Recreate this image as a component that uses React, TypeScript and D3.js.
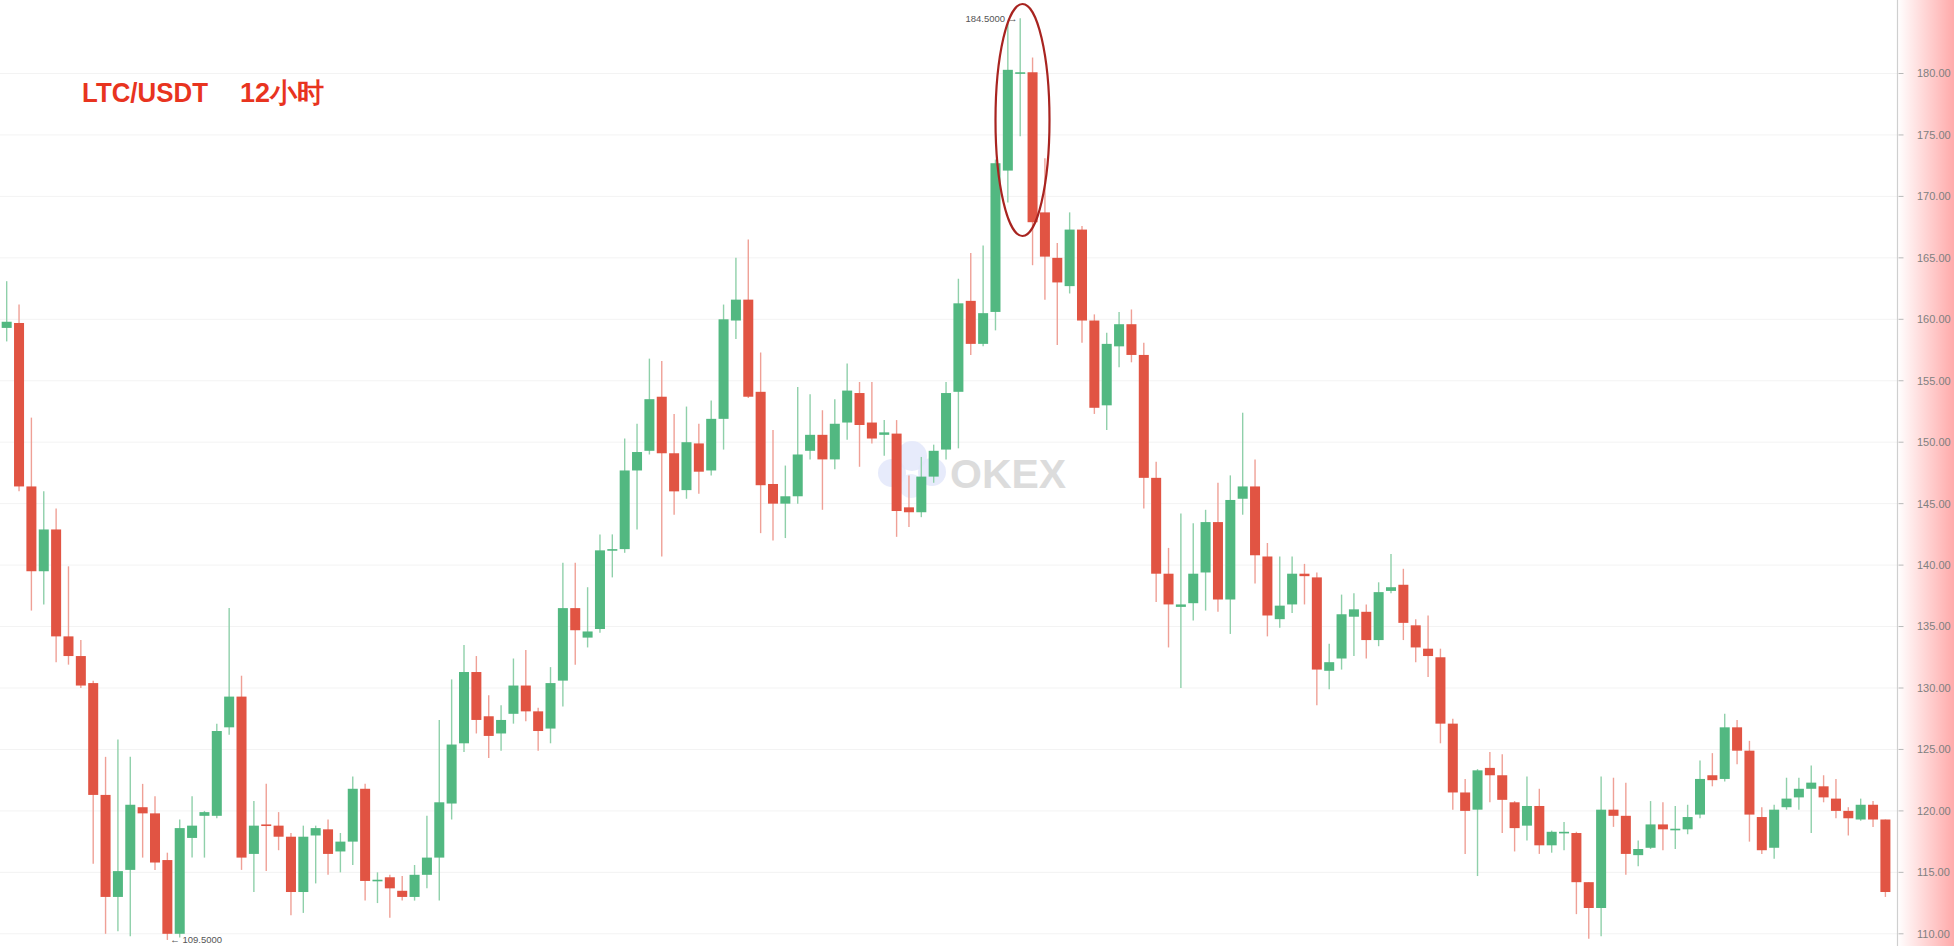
import React from "react";
import * as d3 from "d3";

// ---- Data (12h LTC/USDT candles) ----
const opens = [
  159.3, 159.7, 146.4, 139.5, 142.9, 134.2, 132.6, 130.4, 121.3, 113.0,
  115.2, 120.3, 119.8, 116.0, 110.0, 117.8, 119.6, 119.6, 126.8, 129.3,
  116.5, 118.9, 118.8, 117.9, 113.4, 118.0, 118.5, 116.7, 117.5, 121.8,
  114.3, 114.6, 113.5, 113.0, 114.8, 116.2, 120.6, 125.5, 131.3, 127.7,
  126.3, 127.9, 130.2, 128.1, 126.7, 130.6, 136.5, 134.1, 134.8, 141.2,
  141.3, 147.7, 149.3, 153.7, 149.1, 146.1, 149.9, 147.7, 151.9, 159.9,
  161.6, 154.1, 146.6, 145.0, 145.6, 149.3, 150.6, 148.6, 151.6, 154.0,
  151.6, 150.6, 150.7, 144.7, 144.3, 147.2, 149.4, 154.1, 161.5, 158.0,
  160.6, 172.1, 180.0, 180.1, 168.7, 165.0, 162.7, 167.3, 159.9, 153.0,
  157.8, 159.6, 157.1, 147.1, 139.3, 136.6, 136.9, 139.4, 143.5, 137.2,
  145.4, 146.4, 140.7, 135.6, 136.8, 139.3, 139.0, 131.4, 132.4, 135.8,
  136.2, 133.9, 137.9, 138.4, 135.1, 133.2, 132.5, 127.1, 121.5, 120.1,
  123.5, 122.9, 120.7, 118.8, 120.4, 117.2, 118.2, 118.2, 114.2, 112.1,
  120.1, 119.6, 116.4, 117.0, 118.9, 118.5, 118.5, 119.7, 122.9, 122.6,
  126.8, 124.9, 119.5, 117.0, 120.3, 121.1, 121.8, 122.0, 121.0, 120.0,
  119.3, 120.5, 119.3,
];
const highs = [
  163.1, 161.2, 152.0, 146.0, 144.6, 139.9, 133.9, 130.6, 124.4, 125.8,
  124.4, 122.2, 121.2, 116.6, 119.3, 121.2, 120.0, 127.1, 136.5, 131.0,
  120.8, 122.2, 119.9, 118.2, 118.8, 118.8, 119.3, 118.2, 122.8, 122.2,
  115.0, 114.8, 114.7, 115.6, 119.6, 127.4, 130.7, 133.5, 132.6, 129.4,
  128.6, 132.4, 133.1, 128.4, 131.7, 140.2, 140.2, 138.2, 142.5, 142.5,
  150.3, 151.5, 156.8, 156.6, 152.3, 152.9, 151.5, 153.4, 161.2, 165.0,
  166.5, 157.3, 151.0, 148.1, 154.5, 153.9, 152.6, 153.5, 156.4, 154.9,
  154.9, 151.8, 151.8, 147.3, 148.8, 149.8, 154.9, 163.3, 165.4, 166.0,
  173.0, 184.2, 184.5, 181.3, 173.1, 166.2, 168.7, 167.6, 160.4, 158.9,
  160.6, 160.8, 158.1, 148.4, 141.4, 144.2, 143.4, 144.5, 146.7, 147.3,
  152.4, 148.6, 141.8, 140.7, 140.7, 140.1, 139.4, 133.6, 137.6, 137.7,
  136.8, 138.6, 140.9, 139.7, 135.6, 135.9, 133.2, 127.5, 122.6, 123.4,
  124.8, 124.6, 120.8, 122.8, 121.8, 118.4, 119.1, 118.3, 114.2, 122.8,
  122.7, 122.3, 117.6, 120.8, 120.7, 120.4, 120.5, 124.1, 124.7, 127.9,
  127.4, 125.7, 120.3, 120.5, 122.7, 122.7, 123.7, 122.9, 122.6, 120.3,
  121.0, 120.8, 119.3,
];
const lows = [
  158.2, 146.0, 136.3, 136.8, 132.1, 131.9, 130.0, 115.7, 110.0, 110.2,
  109.8, 116.2, 115.2, 109.5, 109.7, 116.2, 116.2, 119.4, 126.2, 115.2,
  113.4, 115.1, 116.8, 111.5, 111.7, 114.1, 114.8, 115.0, 115.6, 112.7,
  112.5, 111.3, 112.7, 112.7, 113.7, 112.7, 119.3, 124.8, 126.3, 124.3,
  124.9, 127.1, 127.3, 124.9, 125.5, 128.5, 131.9, 133.3, 134.5, 139.0,
  141.0, 142.9, 149.0, 140.7, 144.1, 145.4, 145.8, 147.3, 149.4, 158.4,
  153.6, 142.6, 142.0, 142.2, 145.0, 148.6, 144.5, 147.8, 150.2, 148.0,
  149.9, 148.9, 142.3, 143.1, 143.9, 146.7, 148.6, 149.5, 157.1, 157.8,
  159.1, 169.5, 174.9, 164.4, 161.6, 157.9, 162.1, 158.1, 152.3, 151.0,
  156.1, 156.5, 144.6, 137.0, 133.3, 130.0, 135.5, 136.3, 136.2, 134.4,
  144.1, 138.5, 134.2, 134.9, 136.1, 136.8, 128.6, 129.9, 131.5, 132.6,
  132.4, 133.4, 137.7, 133.9, 132.1, 130.9, 125.5, 120.1, 116.5, 114.7,
  120.7, 118.2, 116.7, 117.6, 116.5, 116.6, 116.8, 111.6, 109.6, 109.8,
  118.7, 114.8, 115.5, 116.9, 116.8, 116.9, 118.1, 119.4, 122.0, 122.4,
  123.8, 117.5, 116.5, 116.1, 120.1, 120.1, 118.2, 120.7, 119.4, 118.0,
  119.2, 118.7, 113.0,
];
const closes = [
  159.8, 146.4, 139.5, 142.9, 134.2, 132.6, 130.2, 121.3, 113.0, 115.1,
  120.5, 119.8, 115.8, 110.0, 118.6, 118.8, 119.9, 126.5, 129.3, 116.2,
  118.8, 118.8, 117.9, 113.4, 117.9, 118.6, 116.5, 117.5, 121.8, 114.3,
  114.4, 113.7, 113.0, 114.8, 116.2, 120.7, 125.4, 131.3, 127.4, 126.1,
  127.4, 130.2, 128.1, 126.5, 130.4, 136.5, 134.7, 134.6, 141.2, 141.3,
  147.7, 149.2, 153.5, 149.1, 146.0, 150.0, 147.6, 151.9, 160.0, 161.6,
  153.7, 146.5, 145.0, 145.6, 149.0, 150.6, 148.6, 151.5, 154.2, 151.4,
  150.3, 150.8, 144.4, 144.3, 147.2, 149.3, 154.0, 161.3, 158.0, 160.5,
  172.7, 180.3, 180.1, 167.9, 165.1, 163.0, 167.3, 159.9, 152.8, 158.0,
  159.6, 157.1, 147.1, 139.3, 136.8, 136.8, 139.3, 143.5, 137.2, 145.3,
  146.4, 140.8, 135.9, 136.7, 139.3, 139.1, 131.5, 132.1, 136.0, 136.4,
  133.9, 137.8, 138.2, 135.3, 133.3, 132.6, 127.1, 121.5, 120.0, 123.3,
  122.9, 120.9, 118.6, 120.4, 117.2, 118.3, 118.3, 114.2, 112.1, 120.1,
  119.6, 116.5, 116.9, 118.9, 118.5, 118.55, 119.5, 122.6, 122.5, 126.8,
  124.9, 119.7, 116.8, 120.1, 121.0, 121.8, 122.3, 121.1, 120.0, 119.4,
  120.5, 119.3, 113.4,
];
const yTicks = [110, 115, 120, 125, 130, 135, 140, 145, 150, 155, 160, 165, 170, 175, 180];
const titlePair = "LTC/USDT";
const titlePeriod = "12小时";
const maxLabel = "184.5000";
const minLabel = "109.5000";
const maxIndex = 82;
const minIndex = 13;
const watermark = "OKEX";

const W = 1954;
const H = 946;
const AXIS_X = 1897.5;
const GREEN = "#52b881";
const RED = "#e15443";
const GREEN_WICK = "#8fd0aa";
const RED_WICK = "#efa096";

export default function App() {
  const n = opens.length;
  const idx = d3.range(n).map(String);
  const x = d3.scaleBand<string>().domain(idx).range([0.5, 0.5 + n * 12.36]).paddingInner(0.19).paddingOuter(0.095);
  const y = d3.scaleLinear().domain([110, 180]).range([933.8, 73.5]);
  const bw = x.bandwidth();
  const cx = (i: number) => (x(String(i)) as number) + bw / 2;

  return (
    <svg width={W} height={H} style={{ position: "absolute", left: 0, top: 0, background: "#fff" }}
      fontFamily="'Liberation Sans', Arial, sans-serif">
      <defs>
        <linearGradient id="axisGrad" x1="0" x2="1" y1="0" y2="0">
          <stop offset="0%" stopColor="#ffffff" />
          <stop offset="100%" stopColor="#ffaaaa" />
        </linearGradient>
      </defs>
      <rect x={0} y={0} width={W} height={H} fill="#fff" />
      <rect x={AXIS_X} y={0} width={W - AXIS_X} height={H} fill="url(#axisGrad)" />
      {/* grid */}
      {yTicks.map((t) => (
        <line key={"g" + t} x1={0} x2={AXIS_X} y1={y(t)} y2={y(t)} stroke="#f3f3f3" strokeWidth={1} />
      ))}
      {/* axis */}
      <line x1={AXIS_X} x2={AXIS_X} y1={0} y2={H} stroke="#cfcfcf" strokeWidth={1.2} />
      {yTicks.map((t) => (
        <g key={"t" + t}>
          <line x1={AXIS_X + 1} x2={AXIS_X + 6} y1={y(t)} y2={y(t)} stroke="#b8b8b8" />
          <text x={1917} y={y(t)} dy="0.35em" fontSize={11} fill="#808080">
            {t.toFixed(2)}
          </text>
        </g>
      ))}
      {/* watermark */}
      <g>
        <circle cx={892} cy={473} r={14} fill="#e3e8fa" opacity={0.85} />
        <circle cx={912} cy={456} r={15} fill="#e3e8fa" opacity={0.85} />
        <circle cx={932} cy={472} r={14} fill="#e3e8fa" opacity={0.85} />
        <circle cx={911} cy={486} r={12} fill="#e8ecfb" opacity={0.85} />
      </g>
      <text x={950} y={488} fontSize={41} fontWeight="bold" fill="#dcdcdc">{watermark}</text>
      {/* candles */}
      {opens.map((o, i) => {
        const c = closes[i];
        const up = c >= o;
        const top = y(Math.max(o, c));
        const bot = y(Math.min(o, c));
        const hgt = Math.max(bot - top, 1.6);
        return (
          <g key={"c" + i}>
            <line x1={cx(i)} x2={cx(i)} y1={y(highs[i])} y2={y(lows[i])} stroke={up ? GREEN_WICK : RED_WICK} strokeWidth={1.4} />
            <rect x={x(String(i))} y={top} width={bw} height={hgt} fill={up ? GREEN : RED} />
          </g>
        );
      })}
      {/* extreme labels */}
      <text x={cx(maxIndex) - 3} y={y(184.5)} dy="0.35em" fontSize={9.5} fill="#555" textAnchor="end">
        {maxLabel} →
      </text>
      <text x={cx(minIndex) + 3} y={y(109.5)} dy="0.35em" fontSize={9.5} fill="#555">
        ← {minLabel}
      </text>
      {/* highlight ellipse */}
      <ellipse cx={1022.5} cy={120} rx={27} ry={116} fill="none" stroke="#a82420" strokeWidth={2.2} />
      {/* title */}
      <text y={101.5} fontSize={27} fontWeight="bold" fill="#e8341f">
        <tspan x={82} textLength={126} lengthAdjust="spacingAndGlyphs">{titlePair}</tspan>
        <tspan x={240}>{titlePeriod}</tspan>
      </text>
    </svg>
  );
}
